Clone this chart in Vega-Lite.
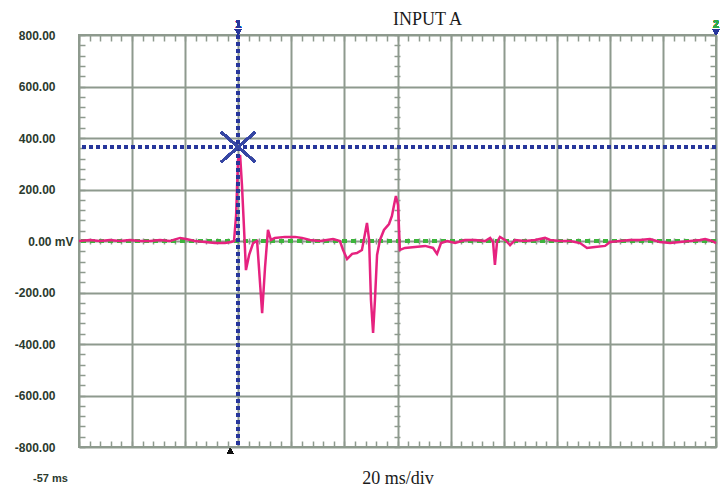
{
  "$schema": "https://vega.github.io/schema/vega-lite/v6.json",
  "autosize": {"type": "none"},
  "padding": {"left": 79, "top": 35, "right": 12, "bottom": 41},
  "width": 637,
  "height": 412,
  "background": "white",
  "title": {"text": "INPUT A", "font": "Liberation Serif", "fontSize": 18, "fontWeight": "normal", "color": "#1a1a1a", "anchor": "middle", "dx": 30, "dy": 19, "offset": 10, "frame": "group"},
  "config": {
    "view": {"stroke": "#8e9a8e", "strokeWidth": 2},
    "axis": {"gridColor": "#8e9a8e", "gridWidth": 2, "gridOpacity": 1, "tickColor": "#8e9a8e", "tickWidth": 1.5, "domain": false}
  },
  "data": {"values": [
    {"t": -57, "v": 0}, {"t": -52.9, "v": 4}, {"t": -49.1, "v": 0}, {"t": -45.3, "v": 4}, {"t": -41.6, "v": 0},
    {"t": -37.8, "v": 4}, {"t": -34, "v": 0}, {"t": -30.2, "v": 0}, {"t": -26.5, "v": 4}, {"t": -22.7, "v": 0},
    {"t": -18.9, "v": 12}, {"t": -16.7, "v": 8}, {"t": -13.3, "v": 0}, {"t": -9.5, "v": -4}, {"t": -5.8, "v": -8},
    {"t": -2, "v": -8}, {"t": 0.3, "v": -4}, {"t": 1.4, "v": 0}, {"t": 2.2, "v": 101}, {"t": 2.9, "v": 315},
    {"t": 3.7, "v": 334}, {"t": 4.4, "v": 217}, {"t": 5.2, "v": 43}, {"t": 5.9, "v": -113}, {"t": 7.1, "v": -54},
    {"t": 8.6, "v": -8}, {"t": 10.1, "v": 0}, {"t": 12, "v": -280}, {"t": 13.1, "v": -101}, {"t": 14.2, "v": 43},
    {"t": 15.3, "v": 4}, {"t": 16.8, "v": 12}, {"t": 20.6, "v": 16}, {"t": 24.4, "v": 16}, {"t": 27, "v": 12},
    {"t": 30, "v": 4}, {"t": 33.8, "v": 0}, {"t": 36.4, "v": 4}, {"t": 38.7, "v": 8}, {"t": 41.3, "v": 0},
    {"t": 42.5, "v": -35}, {"t": 44, "v": -70}, {"t": 45.9, "v": -50}, {"t": 47.7, "v": -47}, {"t": 49.6, "v": -35},
    {"t": 50.8, "v": 31}, {"t": 51.5, "v": 70}, {"t": 52.3, "v": 4}, {"t": 53, "v": -229}, {"t": 53.8, "v": -357},
    {"t": 54.5, "v": -229}, {"t": 55.3, "v": -54}, {"t": 56.4, "v": 4}, {"t": 57.9, "v": 43}, {"t": 59.8, "v": 66},
    {"t": 60.9, "v": 97}, {"t": 61.7, "v": 140}, {"t": 62.4, "v": 175}, {"t": 63.2, "v": 140}, {"t": 63.9, "v": -35},
    {"t": 65.8, "v": -27}, {"t": 69.6, "v": -23}, {"t": 73.4, "v": -19}, {"t": 76.4, "v": -27}, {"t": 77.9, "v": -50},
    {"t": 79.4, "v": -8}, {"t": 81.7, "v": 0}, {"t": 84.7, "v": -8}, {"t": 88.4, "v": 4}, {"t": 92.2, "v": 4},
    {"t": 96, "v": 0}, {"t": 97.9, "v": 12}, {"t": 99, "v": -4}, {"t": 99.7, "v": -93}, {"t": 100.5, "v": -4},
    {"t": 101.6, "v": 16}, {"t": 103.5, "v": 4}, {"t": 105.4, "v": -16}, {"t": 107.3, "v": 4}, {"t": 111, "v": 0},
    {"t": 114.8, "v": 4}, {"t": 118.6, "v": 12}, {"t": 120.5, "v": 4}, {"t": 124.2, "v": 0}, {"t": 128, "v": 0},
    {"t": 131.8, "v": -8}, {"t": 134.4, "v": -27}, {"t": 137.4, "v": -23}, {"t": 141.2, "v": -19}, {"t": 143.1, "v": -4},
    {"t": 146.8, "v": 0}, {"t": 150.6, "v": 4}, {"t": 154.4, "v": 4}, {"t": 158.1, "v": 8}, {"t": 161.9, "v": -4},
    {"t": 165.7, "v": -8}, {"t": 169.4, "v": -4}, {"t": 173.2, "v": 0}, {"t": 177, "v": 4}, {"t": 178.9, "v": 8},
    {"t": 181.5, "v": 0}, {"t": 183, "v": -8}
  ]},
  "resolve": {"axis": {"x": "independent", "y": "independent"}},
  "layer": [
    {
      "mark": {"type": "rule", "color": "#3cb43c", "strokeWidth": 3, "strokeDash": [5, 4]},
      "encoding": {
        "y": {"datum": 0, "type": "quantitative", "scale": {"domain": [-800, 800], "nice": false, "zero": false},
          "axis": {"orient": "left", "title": null, "values": [-800, -600, -400, -200, 0, 200, 400, 600, 800], "grid": true, "ticks": false, "tickSize": 0, "labelPadding": 24, "labelFlush": false,
            "labelExpr": "datum.value == 0 ? '' : (datum.value < 0 ? '-' : '') + format(abs(datum.value), '.2f')",
            "labelFont": "Liberation Sans", "labelFontWeight": "bold", "labelFontSize": 12, "labelColor": "#2b3a2e"}}
      }
    },
    {
      "mark": {"type": "line", "color": "#e6227f", "strokeWidth": 2.5},
      "encoding": {
        "x": {"field": "t", "type": "quantitative", "scale": {"domain": [-57, 183], "nice": false, "zero": false},
          "axis": {"orient": "bottom", "values": [-57, -37, -17, 3, 23, 43, 63, 83, 103, 123, 143, 163, 183], "grid": true, "ticks": false, "tickSize": 0, "labels": false,
            "title": "20 ms/div", "titleFont": "Liberation Serif", "titleFontSize": 18, "titleFontWeight": "normal", "titleColor": "#1a1a1a", "titlePadding": 22}},
        "y": {"field": "v", "type": "quantitative", "scale": {"domain": [-800, 800], "nice": false, "zero": false},
          "axis": {"orient": "left", "title": null, "values": [0], "grid": false, "ticks": false, "tickSize": 0, "labelPadding": 6,
            "labelExpr": "'0.00 mV'", "labelFont": "Liberation Sans", "labelFontWeight": "bold", "labelFontSize": 12, "labelColor": "#2b3a2e"}}
      }
    },
    {
      "mark": {"type": "rule", "color": "#27369b", "strokeWidth": 3, "strokeDash": [4, 3]},
      "encoding": {
        "y": {"datum": 365, "type": "quantitative", "scale": {"domain": [-800, 800], "nice": false, "zero": false},
          "axis": {"orient": "left", "title": null, "offset": -6, "tickSize": 6, "labels": false, "grid": false,
            "values": [-800,-760,-720,-680,-640,-600,-560,-520,-480,-440,-400,-360,-320,-280,-240,-200,-160,-120,-80,-40,0,40,80,120,160,200,240,280,320,360,400,440,480,520,560,600,640,680,720,760,800]}}
      }
    },
    {
      "mark": {"type": "rule", "color": "#27369b", "strokeWidth": 3, "strokeDash": [4, 3]},
      "encoding": {
        "x": {"datum": 3, "type": "quantitative", "scale": {"domain": [-57, 183], "nice": false, "zero": false},
          "axis": {"orient": "bottom", "title": null, "offset": -6, "tickSize": 6, "labels": false, "grid": false,
            "values": [-57,-53,-49,-45,-41,-37,-33,-29,-25,-21,-17,-13,-9,-5,-1,3,7,11,15,19,23,27,31,35,39,43,47,51,55,59,63,67,71,75,79,83,87,91,95,99,103,107,111,115,119,123,127,131,135,139,143,147,151,155,159,163,167,171,175,179,183]}}
      }
    },
    {
      "mark": {"type": "point", "shape": "M-1,-0.88L1,0.88M-1,0.88L1,-0.88", "size": 1156, "filled": false, "stroke": "#3646a3", "strokeWidth": 2.2, "opacity": 1},
      "encoding": {
        "x": {"datum": 3, "type": "quantitative", "scale": {"domain": [-57, 183], "nice": false, "zero": false},
          "axis": {"orient": "top", "title": null, "offset": -6, "tickSize": 6, "labels": false, "grid": false,
            "values": [-57,-53,-49,-45,-41,-37,-33,-29,-25,-21,-17,-13,-9,-5,-1,3,7,11,15,19,23,27,31,35,39,43,47,51,55,59,63,67,71,75,79,83,87,91,95,99,103,107,111,115,119,123,127,131,135,139,143,147,151,155,159,163,167,171,175,179,183]}},
        "y": {"datum": 365, "type": "quantitative", "scale": {"domain": [-800, 800], "nice": false, "zero": false},
          "axis": {"orient": "right", "title": null, "offset": -6, "tickSize": 6, "labels": false, "grid": false,
            "values": [-800,-760,-720,-680,-640,-600,-560,-520,-480,-440,-400,-360,-320,-280,-240,-200,-160,-120,-80,-40,0,40,80,120,160,200,240,280,320,360,400,440,480,520,560,600,640,680,720,760,800]}}
      }
    },
    {
      "mark": {"type": "text", "text": "1", "font": "Liberation Sans", "fontWeight": "bold", "fontSize": 10, "color": "#27369b", "baseline": "middle", "dy": -10},
      "encoding": {
        "x": {"datum": 3, "type": "quantitative", "scale": {"domain": [-57, 183], "nice": false, "zero": false},
          "axis": {"orient": "bottom", "title": null, "offset": -209, "tickSize": 6, "labels": false, "grid": false,
            "values": [-57,-53,-49,-45,-41,-37,-33,-29,-25,-21,-17,-13,-9,-5,-1,3,7,11,15,19,23,27,31,35,39,43,47,51,55,59,63,67,71,75,79,83,87,91,95,99,103,107,111,115,119,123,127,131,135,139,143,147,151,155,159,163,167,171,175,179,183]}},
        "y": {"datum": 800, "type": "quantitative", "scale": {"domain": [-800, 800], "nice": false, "zero": false},
          "axis": {"orient": "left", "title": null, "offset": -321, "tickSize": 6, "labels": false, "grid": false,
            "values": [-800,-760,-720,-680,-640,-600,-560,-520,-480,-440,-400,-360,-320,-280,-240,-200,-160,-120,-80,-40,0,40,80,120,160,200,240,280,320,360,400,440,480,520,560,600,640,680,720,760,800]}}
      }
    },
    {
      "mark": {"type": "point", "shape": "triangle-down", "size": 45, "filled": true, "color": "#27369b", "opacity": 1, "yOffset": -3},
      "encoding": {
        "x": {"datum": 3, "type": "quantitative", "scale": {"domain": [-57, 183], "nice": false, "zero": false},
          "axis": {"orient": "bottom", "title": null, "values": [-57], "grid": false, "ticks": false, "tickSize": 0, "labelPadding": 25, "labelOffset": -29, "labelFlush": false, "labelAlign": "center", "labelBaseline": "top",
            "labelExpr": "'-57 ms'", "labelFont": "Liberation Sans", "labelFontWeight": "bold", "labelFontSize": 11, "labelColor": "#2b3a2e"}},
        "y": {"datum": 800, "type": "quantitative", "scale": {"domain": [-800, 800], "nice": false, "zero": false}, "axis": null}
      }
    },
    {
      "mark": {"type": "text", "text": "2", "font": "Liberation Sans", "fontWeight": "bold", "fontSize": 10, "color": "#2ea84a", "baseline": "middle", "dy": -10},
      "encoding": {
        "x": {"datum": 183, "type": "quantitative", "scale": {"domain": [-57, 183], "nice": false, "zero": false}, "axis": null},
        "y": {"datum": 800, "type": "quantitative", "scale": {"domain": [-800, 800], "nice": false, "zero": false}, "axis": null}
      }
    },
    {
      "mark": {"type": "point", "shape": "triangle-down", "size": 45, "filled": true, "color": "#27369b", "opacity": 1, "yOffset": -3},
      "encoding": {
        "x": {"datum": 183, "type": "quantitative", "scale": {"domain": [-57, 183], "nice": false, "zero": false}, "axis": null},
        "y": {"datum": 800, "type": "quantitative", "scale": {"domain": [-800, 800], "nice": false, "zero": false}, "axis": null}
      }
    },
    {
      "mark": {"type": "point", "shape": "triangle-up", "size": 40, "filled": true, "color": "#111111", "opacity": 1, "yOffset": 4},
      "encoding": {
        "x": {"datum": 0, "type": "quantitative", "scale": {"domain": [-57, 183], "nice": false, "zero": false}, "axis": null},
        "y": {"datum": -800, "type": "quantitative", "scale": {"domain": [-800, 800], "nice": false, "zero": false}, "axis": null}
      }
    }
  ]
}
